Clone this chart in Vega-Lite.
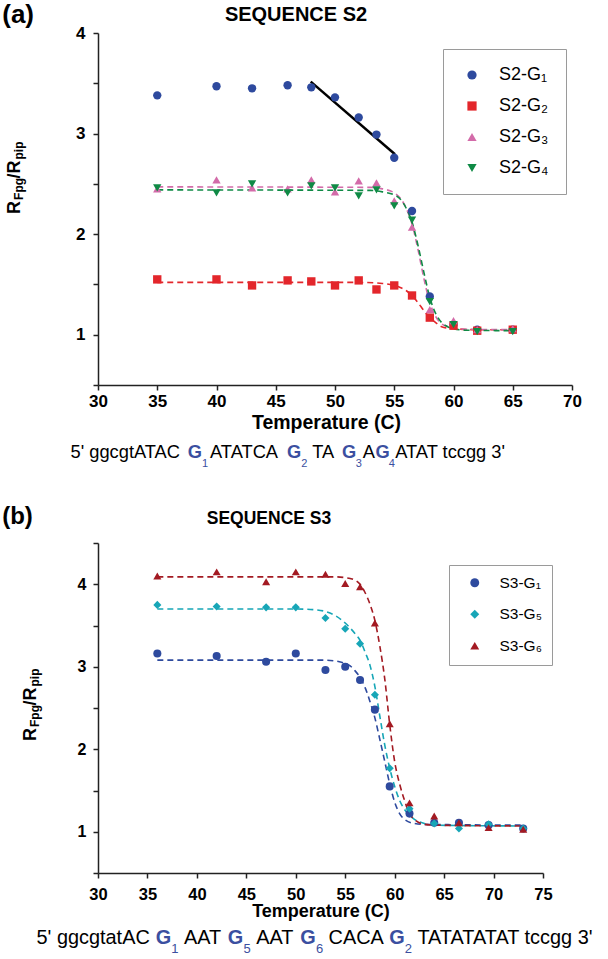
{
"$schema":"https://vega.github.io/schema/vega-lite/v6.json",
"background":"white",
"padding":{"left":2,"top":2,"right":5,"bottom":5},
"spacing":36,
"datasets":{
"p2":[
{"s":"S2-G₁","t":35,"r":3.38},{"s":"S2-G₁","t":40,"r":3.47},{"s":"S2-G₁","t":43,"r":3.45},{"s":"S2-G₁","t":46,"r":3.48},{"s":"S2-G₁","t":48,"r":3.46},{"s":"S2-G₁","t":50,"r":3.36},{"s":"S2-G₁","t":52,"r":3.16},{"s":"S2-G₁","t":53.5,"r":2.99},{"s":"S2-G₁","t":55,"r":2.76},{"s":"S2-G₁","t":56.5,"r":2.23},{"s":"S2-G₁","t":58,"r":1.38},{"s":"S2-G₁","t":60,"r":1.10},{"s":"S2-G₁","t":62,"r":1.05},{"s":"S2-G₁","t":65,"r":1.05},
{"s":"S2-G₂","t":35,"r":1.55},{"s":"S2-G₂","t":40,"r":1.55},{"s":"S2-G₂","t":43,"r":1.49},{"s":"S2-G₂","t":46,"r":1.54},{"s":"S2-G₂","t":48,"r":1.53},{"s":"S2-G₂","t":50,"r":1.49},{"s":"S2-G₂","t":52,"r":1.54},{"s":"S2-G₂","t":53.5,"r":1.45},{"s":"S2-G₂","t":55,"r":1.49},{"s":"S2-G₂","t":56.5,"r":1.39},{"s":"S2-G₂","t":58,"r":1.17},{"s":"S2-G₂","t":60,"r":1.09},{"s":"S2-G₂","t":62,"r":1.04},{"s":"S2-G₂","t":65,"r":1.05},
{"s":"S2-G₃","t":35,"r":2.45},{"s":"S2-G₃","t":40,"r":2.54},{"s":"S2-G₃","t":43,"r":2.46},{"s":"S2-G₃","t":46,"r":2.45},{"s":"S2-G₃","t":48,"r":2.54},{"s":"S2-G₃","t":50,"r":2.42},{"s":"S2-G₃","t":52,"r":2.53},{"s":"S2-G₃","t":53.5,"r":2.51},{"s":"S2-G₃","t":55,"r":2.33},{"s":"S2-G₃","t":56.5,"r":2.07},{"s":"S2-G₃","t":58,"r":1.25},{"s":"S2-G₃","t":60,"r":1.14},{"s":"S2-G₃","t":62,"r":1.05},{"s":"S2-G₃","t":65,"r":1.06},
{"s":"S2-G₄","t":35,"r":2.46},{"s":"S2-G₄","t":40,"r":2.41},{"s":"S2-G₄","t":43,"r":2.50},{"s":"S2-G₄","t":46,"r":2.41},{"s":"S2-G₄","t":48,"r":2.48},{"s":"S2-G₄","t":50,"r":2.46},{"s":"S2-G₄","t":52,"r":2.38},{"s":"S2-G₄","t":53.5,"r":2.44},{"s":"S2-G₄","t":55,"r":2.28},{"s":"S2-G₄","t":56.5,"r":2.14},{"s":"S2-G₄","t":58,"r":1.33},{"s":"S2-G₄","t":60,"r":1.10},{"s":"S2-G₄","t":62,"r":1.03},{"s":"S2-G₄","t":65,"r":1.03}
],
"c2":[
{"s":"S2-G₂","t":35,"r":1.52},{"s":"S2-G₂","t":52,"r":1.52},{"s":"S2-G₂","t":54,"r":1.51},{"s":"S2-G₂","t":55,"r":1.49},{"s":"S2-G₂","t":55.5,"r":1.47},{"s":"S2-G₂","t":56,"r":1.44},{"s":"S2-G₂","t":56.5,"r":1.39},{"s":"S2-G₂","t":57,"r":1.32},{"s":"S2-G₂","t":57.5,"r":1.24},{"s":"S2-G₂","t":58,"r":1.17},{"s":"S2-G₂","t":58.5,"r":1.12},{"s":"S2-G₂","t":59,"r":1.08},{"s":"S2-G₂","t":60,"r":1.06},{"s":"S2-G₂","t":62,"r":1.05},{"s":"S2-G₂","t":65,"r":1.05},
{"s":"S2-G₃","t":35,"r":2.47},{"s":"S2-G₃","t":53,"r":2.465},{"s":"S2-G₃","t":54,"r":2.45},{"s":"S2-G₃","t":55,"r":2.41},{"s":"S2-G₃","t":55.5,"r":2.36},{"s":"S2-G₃","t":56,"r":2.26},{"s":"S2-G₃","t":56.5,"r":2.10},{"s":"S2-G₃","t":57,"r":1.85},{"s":"S2-G₃","t":57.5,"r":1.56},{"s":"S2-G₃","t":58,"r":1.32},{"s":"S2-G₃","t":58.5,"r":1.18},{"s":"S2-G₃","t":59,"r":1.11},{"s":"S2-G₃","t":59.5,"r":1.08},{"s":"S2-G₃","t":60,"r":1.065},{"s":"S2-G₃","t":61,"r":1.055},{"s":"S2-G₃","t":65,"r":1.05},
{"s":"S2-G₄","t":35,"r":2.44},{"s":"S2-G₄","t":53,"r":2.435},{"s":"S2-G₄","t":54,"r":2.42},{"s":"S2-G₄","t":55,"r":2.39},{"s":"S2-G₄","t":55.5,"r":2.35},{"s":"S2-G₄","t":56,"r":2.26},{"s":"S2-G₄","t":56.5,"r":2.12},{"s":"S2-G₄","t":57,"r":1.89},{"s":"S2-G₄","t":57.5,"r":1.62},{"s":"S2-G₄","t":58,"r":1.37},{"s":"S2-G₄","t":58.5,"r":1.21},{"s":"S2-G₄","t":59,"r":1.12},{"s":"S2-G₄","t":59.5,"r":1.08},{"s":"S2-G₄","t":60,"r":1.06},{"s":"S2-G₄","t":61,"r":1.045},{"s":"S2-G₄","t":65,"r":1.04}
],
"fit2":[{"t":47.95,"r":3.516},{"t":55.06,"r":2.794}],
"p3":[
{"s":"S3-G₁","t":36,"r":3.16},{"s":"S3-G₁","t":42,"r":3.13},{"s":"S3-G₁","t":47,"r":3.06},{"s":"S3-G₁","t":50,"r":3.16},{"s":"S3-G₁","t":53,"r":2.96},{"s":"S3-G₁","t":55,"r":3.00},{"s":"S3-G₁","t":56.5,"r":2.84},{"s":"S3-G₁","t":58,"r":2.48},{"s":"S3-G₁","t":59.5,"r":1.55},{"s":"S3-G₁","t":61.5,"r":1.22},{"s":"S3-G₁","t":64,"r":1.11},{"s":"S3-G₁","t":66.5,"r":1.11},{"s":"S3-G₁","t":69.5,"r":1.08},{"s":"S3-G₁","t":73,"r":1.04},
{"s":"S3-G₅","t":36,"r":3.75},{"s":"S3-G₅","t":42,"r":3.73},{"s":"S3-G₅","t":47,"r":3.72},{"s":"S3-G₅","t":50,"r":3.72},{"s":"S3-G₅","t":53,"r":3.59},{"s":"S3-G₅","t":55,"r":3.46},{"s":"S3-G₅","t":56.5,"r":3.28},{"s":"S3-G₅","t":58,"r":2.66},{"s":"S3-G₅","t":59.5,"r":1.77},{"s":"S3-G₅","t":61.5,"r":1.28},{"s":"S3-G₅","t":64,"r":1.10},{"s":"S3-G₅","t":66.5,"r":1.04},{"s":"S3-G₅","t":69.5,"r":1.09},{"s":"S3-G₅","t":73,"r":1.04},
{"s":"S3-G₆","t":36,"r":4.10},{"s":"S3-G₆","t":42,"r":4.15},{"s":"S3-G₆","t":47,"r":4.03},{"s":"S3-G₆","t":50,"r":4.15},{"s":"S3-G₆","t":53,"r":4.12},{"s":"S3-G₆","t":55,"r":4.01},{"s":"S3-G₆","t":56.5,"r":3.97},{"s":"S3-G₆","t":58,"r":3.53},{"s":"S3-G₆","t":59.5,"r":2.31},{"s":"S3-G₆","t":61.5,"r":1.35},{"s":"S3-G₆","t":64,"r":1.19},{"s":"S3-G₆","t":66.5,"r":1.11},{"s":"S3-G₆","t":69.5,"r":1.05},{"s":"S3-G₆","t":73,"r":1.03}
],
"c3":[
{"s":"S3-G₁","t":36,"r":3.08},{"s":"S3-G₁","t":53,"r":3.08},{"s":"S3-G₁","t":54,"r":3.07},{"s":"S3-G₁","t":55,"r":3.04},{"s":"S3-G₁","t":55.5,"r":3.01},{"s":"S3-G₁","t":56,"r":2.95},{"s":"S3-G₁","t":56.5,"r":2.87},{"s":"S3-G₁","t":57,"r":2.75},{"s":"S3-G₁","t":57.5,"r":2.58},{"s":"S3-G₁","t":58,"r":2.38},{"s":"S3-G₁","t":58.5,"r":2.12},{"s":"S3-G₁","t":59,"r":1.85},{"s":"S3-G₁","t":59.5,"r":1.58},{"s":"S3-G₁","t":60,"r":1.36},{"s":"S3-G₁","t":60.5,"r":1.22},{"s":"S3-G₁","t":61,"r":1.15},{"s":"S3-G₁","t":62,"r":1.10},{"s":"S3-G₁","t":63,"r":1.09},{"s":"S3-G₁","t":73,"r":1.08},
{"s":"S3-G₅","t":36,"r":3.70},{"s":"S3-G₅","t":50,"r":3.70},{"s":"S3-G₅","t":52,"r":3.69},{"s":"S3-G₅","t":53,"r":3.67},{"s":"S3-G₅","t":54,"r":3.62},{"s":"S3-G₅","t":55,"r":3.53},{"s":"S3-G₅","t":56,"r":3.40},{"s":"S3-G₅","t":56.5,"r":3.32},{"s":"S3-G₅","t":57,"r":3.18},{"s":"S3-G₅","t":57.5,"r":3.02},{"s":"S3-G₅","t":58,"r":2.76},{"s":"S3-G₅","t":58.5,"r":2.40},{"s":"S3-G₅","t":59,"r":2.05},{"s":"S3-G₅","t":59.5,"r":1.77},{"s":"S3-G₅","t":60,"r":1.55},{"s":"S3-G₅","t":60.5,"r":1.38},{"s":"S3-G₅","t":61,"r":1.27},{"s":"S3-G₅","t":61.5,"r":1.20},{"s":"S3-G₅","t":62,"r":1.15},{"s":"S3-G₅","t":63,"r":1.10},{"s":"S3-G₅","t":64,"r":1.08},{"s":"S3-G₅","t":73,"r":1.07},
{"s":"S3-G₆","t":36,"r":4.09},{"s":"S3-G₆","t":54,"r":4.09},{"s":"S3-G₆","t":55,"r":4.08},{"s":"S3-G₆","t":55.5,"r":4.07},{"s":"S3-G₆","t":56,"r":4.05},{"s":"S3-G₆","t":56.5,"r":4.00},{"s":"S3-G₆","t":57,"r":3.90},{"s":"S3-G₆","t":57.5,"r":3.76},{"s":"S3-G₆","t":58,"r":3.56},{"s":"S3-G₆","t":58.5,"r":3.25},{"s":"S3-G₆","t":59,"r":2.85},{"s":"S3-G₆","t":59.5,"r":2.30},{"s":"S3-G₆","t":60,"r":1.85},{"s":"S3-G₆","t":60.5,"r":1.58},{"s":"S3-G₆","t":61,"r":1.38},{"s":"S3-G₆","t":61.5,"r":1.22},{"s":"S3-G₆","t":62,"r":1.15},{"s":"S3-G₆","t":63,"r":1.09},{"s":"S3-G₆","t":64,"r":1.08},{"s":"S3-G₆","t":73,"r":1.07}
]
},
"vconcat":[
{
"width":474,"height":352,
"layer":[
{"data":{"name":"c2"},"mark":{"type":"line","strokeDash":[6,4],"strokeWidth":1.6,"interpolate":"monotone"},
 "encoding":{
  "x":{"field":"t","type":"quantitative","scale":{"domain":[30,70],"nice":false,"zero":false},
   "axis":{"values":[30,32.5,35,37.5,40,42.5,45,47.5,50,52.5,55,57.5,60,62.5,65,67.5,70],"labelExpr":"datum.value % 5 === 0 ? format(datum.value, 'd') : ''","labelFontSize":17,"labelPadding":3,"title":"Temperature (C)","titleFontSize":19.5,"titlePadding":4,"titleX":228}},
  "y":{"field":"r","type":"quantitative","scale":{"domain":[0.5,4],"nice":false,"zero":false},
   "axis":{"values":[0.5,1,1.5,2,2.5,3,3.5,4],"labelExpr":"datum.value % 1 === 0 ? format(datum.value, 'd') : ''","labelFontSize":17,"labelPadding":8,"title":null}},
  "color":{"field":"s","type":"nominal","scale":{"domain":["S2-G₁","S2-G₂","S2-G₃","S2-G₄"],"range":["#2E4A9E","#E3262B","#D36BA9","#0F8A45"]}}
 }},
{"data":{"name":"fit2"},"mark":{"type":"line","color":"#000000","strokeWidth":2.5},
 "encoding":{"x":{"field":"t","type":"quantitative"},"y":{"field":"r","type":"quantitative"}}},
{"data":{"name":"p2"},"mark":{"type":"point","filled":true,"opacity":1,"size":70},
 "encoding":{
  "x":{"field":"t","type":"quantitative"},
  "y":{"field":"r","type":"quantitative"},
  "color":{"field":"s","type":"nominal","scale":{"domain":["S2-G₁","S2-G₂","S2-G₃","S2-G₄"],"range":["#2E4A9E","#E3262B","#D36BA9","#0F8A45"]},
   "legend":{"orient":"none","legendX":345,"legendY":16,"title":null,"padding":17,"rowPadding":13,"symbolSize":85,"symbolOffset":3,"labelOffset":18,"labelFontSize":18,"labelFont":"Liberation Sans","labelColor":"#000","strokeColor":"#9a9a9a","symbolStrokeWidth":0,"symbolOpacity":1}},
  "shape":{"field":"s","type":"nominal","scale":{"domain":["S2-G₁","S2-G₂","S2-G₃","S2-G₄"],"range":["circle","square","triangle-up","triangle-down"]},
   "legend":{"orient":"none","legendX":345,"legendY":16,"title":null,"padding":17,"rowPadding":13,"symbolSize":85,"symbolOffset":3,"labelOffset":18,"labelFontSize":18,"labelFont":"Liberation Sans","labelColor":"#000","strokeColor":"#9a9a9a","symbolStrokeWidth":0,"symbolOpacity":1}}
 }},
{"data":{"values":[{}]},"mark":{"type":"text","align":"left","baseline":"alphabetic","font":"Liberation Sans","fontSize":26,"fontWeight":"bold","color":"#000"},"encoding":{"x":{"datum":21.92},"y":{"datum":4.095},"text":{"value":"(a)"}}},
{"data":{"values":[{}]},"mark":{"type":"text","align":"center","baseline":"alphabetic","font":"Liberation Sans","fontSize":20,"fontWeight":"bold","color":"#000"},"encoding":{"x":{"datum":46.71},"y":{"datum":4.119},"text":{"value":"SEQUENCE S2"}}},
{"data":{"values":[{}]},"mark":{"type":"text","align":"left","baseline":"alphabetic","angle":270,"font":"Liberation Sans","fontSize":18,"fontWeight":"bold","color":"#000"},"encoding":{"x":{"datum":23.443},"y":{"datum":2.2},"text":{"value":"R"}}},
{"data":{"values":[{}]},"mark":{"type":"text","align":"left","baseline":"alphabetic","angle":270,"font":"Liberation Sans","fontSize":12,"fontWeight":"bold","color":"#000"},"encoding":{"x":{"datum":23.671},"y":{"datum":2.34},"text":{"value":"Fpg"}}},
{"data":{"values":[{}]},"mark":{"type":"text","align":"left","baseline":"alphabetic","angle":270,"font":"Liberation Sans","fontSize":18,"fontWeight":"bold","color":"#000"},"encoding":{"x":{"datum":23.443},"y":{"datum":2.553},"text":{"value":"/R"}}},
{"data":{"values":[{}]},"mark":{"type":"text","align":"left","baseline":"alphabetic","angle":270,"font":"Liberation Sans","fontSize":12,"fontWeight":"bold","color":"#000"},"encoding":{"x":{"datum":23.671},"y":{"datum":2.742},"text":{"value":"pip"}}},
{"data":{"values":[{}]},"mark":{"type":"text","align":"left","baseline":"alphabetic","font":"Liberation Sans","fontSize":18.3,"color":"#000"},"encoding":{"x":{"datum":27.68},"y":{"datum":-0.226},"text":{"value":"5' ggcgtATAC"}}},
{"data":{"values":[{}]},"mark":{"type":"text","align":"left","baseline":"alphabetic","font":"Liberation Sans","fontSize":18.3,"fontWeight":"bold","color":"#3B4FA0"},"encoding":{"x":{"datum":37.578},"y":{"datum":-0.226},"text":{"value":"G"}}},
{"data":{"values":[{}]},"mark":{"type":"text","align":"left","baseline":"alphabetic","font":"Liberation Sans","fontSize":11,"color":"#3B4FA0"},"encoding":{"x":{"datum":38.78},"y":{"datum":-0.315},"text":{"value":"1"}}},
{"data":{"values":[{}]},"mark":{"type":"text","align":"left","baseline":"alphabetic","font":"Liberation Sans","fontSize":18.3,"color":"#000"},"encoding":{"x":{"datum":39.451},"y":{"datum":-0.226},"text":{"value":"ATATCA"}}},
{"data":{"values":[{}]},"mark":{"type":"text","align":"left","baseline":"alphabetic","font":"Liberation Sans","fontSize":18.3,"fontWeight":"bold","color":"#3B4FA0"},"encoding":{"x":{"datum":45.949},"y":{"datum":-0.226},"text":{"value":"G"}}},
{"data":{"values":[{}]},"mark":{"type":"text","align":"left","baseline":"alphabetic","font":"Liberation Sans","fontSize":11,"color":"#3B4FA0"},"encoding":{"x":{"datum":47.15},"y":{"datum":-0.315},"text":{"value":"2"}}},
{"data":{"values":[{}]},"mark":{"type":"text","align":"left","baseline":"alphabetic","font":"Liberation Sans","fontSize":18.3,"color":"#000"},"encoding":{"x":{"datum":48.076},"y":{"datum":-0.226},"text":{"value":"TA"}}},
{"data":{"values":[{}]},"mark":{"type":"text","align":"left","baseline":"alphabetic","font":"Liberation Sans","fontSize":18.3,"fontWeight":"bold","color":"#3B4FA0"},"encoding":{"x":{"datum":50.591},"y":{"datum":-0.226},"text":{"value":"G"}}},
{"data":{"values":[{}]},"mark":{"type":"text","align":"left","baseline":"alphabetic","font":"Liberation Sans","fontSize":11,"color":"#3B4FA0"},"encoding":{"x":{"datum":51.76},"y":{"datum":-0.315},"text":{"value":"3"}}},
{"data":{"values":[{}]},"mark":{"type":"text","align":"left","baseline":"alphabetic","font":"Liberation Sans","fontSize":18.3,"color":"#000"},"encoding":{"x":{"datum":52.35},"y":{"datum":-0.226},"text":{"value":"A"}}},
{"data":{"values":[{}]},"mark":{"type":"text","align":"left","baseline":"alphabetic","font":"Liberation Sans","fontSize":18.3,"fontWeight":"bold","color":"#3B4FA0"},"encoding":{"x":{"datum":53.418},"y":{"datum":-0.226},"text":{"value":"G"}}},
{"data":{"values":[{}]},"mark":{"type":"text","align":"left","baseline":"alphabetic","font":"Liberation Sans","fontSize":11,"color":"#3B4FA0"},"encoding":{"x":{"datum":54.54},"y":{"datum":-0.315},"text":{"value":"4"}}},
{"data":{"values":[{}]},"mark":{"type":"text","align":"left","baseline":"alphabetic","font":"Liberation Sans","fontSize":18.3,"color":"#000"},"encoding":{"x":{"datum":55.08},"y":{"datum":-0.226},"text":{"value":"ATAT tccgg 3'"}}}
]
},
{
"width":445,"height":330,
"layer":[
{"data":{"name":"c3"},"mark":{"type":"line","strokeDash":[6,4],"strokeWidth":1.6,"interpolate":"monotone"},
 "encoding":{
  "x":{"field":"t","type":"quantitative","scale":{"domain":[30,75],"nice":false,"zero":false},
   "axis":{"values":[30,32.5,35,37.5,40,42.5,45,47.5,50,52.5,55,57.5,60,62.5,65,67.5,70,72.5,75],"labelExpr":"datum.value % 5 === 0 ? format(datum.value, 'd') : ''","labelFontSize":16.5,"labelPadding":8,"title":"Temperature (C)","titleFontSize":18,"titlePadding":0}},
  "y":{"field":"r","type":"quantitative","scale":{"domain":[0.5,4.5],"nice":false,"zero":false},
   "axis":{"values":[0.5,1,1.5,2,2.5,3,3.5,4,4.5],"labelExpr":"datum.value % 1 === 0 ? format(datum.value, 'd') : ''","labelFontSize":16,"labelPadding":7,"title":null}},
  "color":{"field":"s","type":"nominal","scale":{"domain":["S3-G₁","S3-G₅","S3-G₆"],"range":["#2E4A9E","#17A6B7","#A31A22"]}}
 }},
{"data":{"name":"p3"},"mark":{"type":"point","filled":true,"opacity":1,"size":65},
 "encoding":{
  "x":{"field":"t","type":"quantitative"},
  "y":{"field":"r","type":"quantitative"},
  "color":{"field":"s","type":"nominal","scale":{"domain":["S3-G₁","S3-G₅","S3-G₆"],"range":["#2E4A9E","#17A6B7","#A31A22"]},
   "legend":{"orient":"none","legendX":351,"legendY":22,"title":null,"padding":10,"rowPadding":14.5,"symbolSize":80,"symbolOffset":8,"labelOffset":17,"labelFontSize":15.5,"labelFont":"Liberation Sans","labelColor":"#000","strokeColor":"#9a9a9a","symbolStrokeWidth":0,"symbolOpacity":1}},
  "shape":{"field":"s","type":"nominal","scale":{"domain":["S3-G₁","S3-G₅","S3-G₆"],"range":["circle","diamond","triangle-up"]},
   "legend":{"orient":"none","legendX":351,"legendY":22,"title":null,"padding":10,"rowPadding":14.5,"symbolSize":80,"symbolOffset":8,"labelOffset":17,"labelFontSize":15.5,"labelFont":"Liberation Sans","labelColor":"#000","strokeColor":"#9a9a9a","symbolStrokeWidth":0,"symbolOpacity":1}}
 }},
{"data":{"values":[{}]},"mark":{"type":"text","align":"left","baseline":"alphabetic","font":"Liberation Sans","fontSize":24,"fontWeight":"bold","color":"#000"},"encoding":{"x":{"datum":20.31},"y":{"datum":4.73},"text":{"value":"(b)"}}},
{"data":{"values":[{}]},"mark":{"type":"text","align":"center","baseline":"alphabetic","font":"Liberation Sans","fontSize":17.5,"fontWeight":"bold","color":"#000"},"encoding":{"x":{"datum":47.29},"y":{"datum":4.73},"text":{"value":"SEQUENCE S3"}}},
{"data":{"values":[{}]},"mark":{"type":"text","align":"left","baseline":"alphabetic","angle":270,"font":"Liberation Sans","fontSize":18,"fontWeight":"bold","color":"#000"},"encoding":{"x":{"datum":23.73},"y":{"datum":2.1},"text":{"value":"R"}}},
{"data":{"values":[{}]},"mark":{"type":"text","align":"left","baseline":"alphabetic","angle":270,"font":"Liberation Sans","fontSize":12,"fontWeight":"bold","color":"#000"},"encoding":{"x":{"datum":24.034},"y":{"datum":2.27},"text":{"value":"Fpg"}}},
{"data":{"values":[{}]},"mark":{"type":"text","align":"left","baseline":"alphabetic","angle":270,"font":"Liberation Sans","fontSize":18,"fontWeight":"bold","color":"#000"},"encoding":{"x":{"datum":23.73},"y":{"datum":2.53},"text":{"value":"/R"}}},
{"data":{"values":[{}]},"mark":{"type":"text","align":"left","baseline":"alphabetic","angle":270,"font":"Liberation Sans","fontSize":12,"fontWeight":"bold","color":"#000"},"encoding":{"x":{"datum":24.034},"y":{"datum":2.761},"text":{"value":"pip"}}},
{"data":{"values":[{}]},"mark":{"type":"text","align":"left","baseline":"alphabetic","font":"Liberation Sans","fontSize":19.9,"color":"#000"},"encoding":{"x":{"datum":23.781},"y":{"datum":-0.3606},"text":{"value":"5' ggcgtatAC"}}},
{"data":{"values":[{}]},"mark":{"type":"text","align":"left","baseline":"alphabetic","font":"Liberation Sans","fontSize":19.9,"fontWeight":"bold","color":"#3B4FA0"},"encoding":{"x":{"datum":35.845},"y":{"datum":-0.3606},"text":{"value":"G"}}},
{"data":{"values":[{}]},"mark":{"type":"text","align":"left","baseline":"alphabetic","font":"Liberation Sans","fontSize":13,"color":"#3B4FA0"},"encoding":{"x":{"datum":37.412},"y":{"datum":-0.4697},"text":{"value":"1"}}},
{"data":{"values":[{}]},"mark":{"type":"text","align":"left","baseline":"alphabetic","font":"Liberation Sans","fontSize":19.9,"color":"#000"},"encoding":{"x":{"datum":38.697},"y":{"datum":-0.3606},"text":{"value":"AAT"}}},
{"data":{"values":[{}]},"mark":{"type":"text","align":"left","baseline":"alphabetic","font":"Liberation Sans","fontSize":19.9,"fontWeight":"bold","color":"#3B4FA0"},"encoding":{"x":{"datum":43.126},"y":{"datum":-0.3606},"text":{"value":"G"}}},
{"data":{"values":[{}]},"mark":{"type":"text","align":"left","baseline":"alphabetic","font":"Liberation Sans","fontSize":13,"color":"#3B4FA0"},"encoding":{"x":{"datum":44.713},"y":{"datum":-0.4697},"text":{"value":"5"}}},
{"data":{"values":[{}]},"mark":{"type":"text","align":"left","baseline":"alphabetic","font":"Liberation Sans","fontSize":19.9,"color":"#000"},"encoding":{"x":{"datum":46.008},"y":{"datum":-0.3606},"text":{"value":"AAT"}}},
{"data":{"values":[{}]},"mark":{"type":"text","align":"left","baseline":"alphabetic","font":"Liberation Sans","fontSize":19.9,"fontWeight":"bold","color":"#3B4FA0"},"encoding":{"x":{"datum":50.457},"y":{"datum":-0.3606},"text":{"value":"G"}}},
{"data":{"values":[{}]},"mark":{"type":"text","align":"left","baseline":"alphabetic","font":"Liberation Sans","fontSize":13,"color":"#3B4FA0"},"encoding":{"x":{"datum":52.035},"y":{"datum":-0.4697},"text":{"value":"6"}}},
{"data":{"values":[{}]},"mark":{"type":"text","align":"left","baseline":"alphabetic","font":"Liberation Sans","fontSize":19.9,"color":"#000"},"encoding":{"x":{"datum":53.319},"y":{"datum":-0.3606},"text":{"value":"CACA"}}},
{"data":{"values":[{}]},"mark":{"type":"text","align":"left","baseline":"alphabetic","font":"Liberation Sans","fontSize":19.9,"fontWeight":"bold","color":"#3B4FA0"},"encoding":{"x":{"datum":59.447},"y":{"datum":-0.3606},"text":{"value":"G"}}},
{"data":{"values":[{}]},"mark":{"type":"text","align":"left","baseline":"alphabetic","font":"Liberation Sans","fontSize":13,"color":"#3B4FA0"},"encoding":{"x":{"datum":61.025},"y":{"datum":-0.4697},"text":{"value":"2"}}},
{"data":{"values":[{}]},"mark":{"type":"text","align":"left","baseline":"alphabetic","font":"Liberation Sans","fontSize":19.9,"color":"#000"},"encoding":{"x":{"datum":62.298},"y":{"datum":-0.3606},"text":{"value":"TATATATAT tccgg 3'"}}}
]
}
],
"resolve":{"scale":{"color":"independent","shape":"independent","x":"independent","y":"independent"},"legend":{"color":"independent","shape":"independent"},"axis":{"x":"independent","y":"independent"}},
"config":{
 "view":{"stroke":null},
 "axis":{"labelFont":"Liberation Sans","titleFont":"Liberation Sans","labelColor":"#000","titleColor":"#000","domainColor":"#222","tickColor":"#222","domainWidth":1.5,"tickWidth":1.5,"tickSize":5,"grid":false,"labelFontWeight":"bold","titleFontWeight":"bold","labelOverlap":false,"labelFlush":false}
}
}
